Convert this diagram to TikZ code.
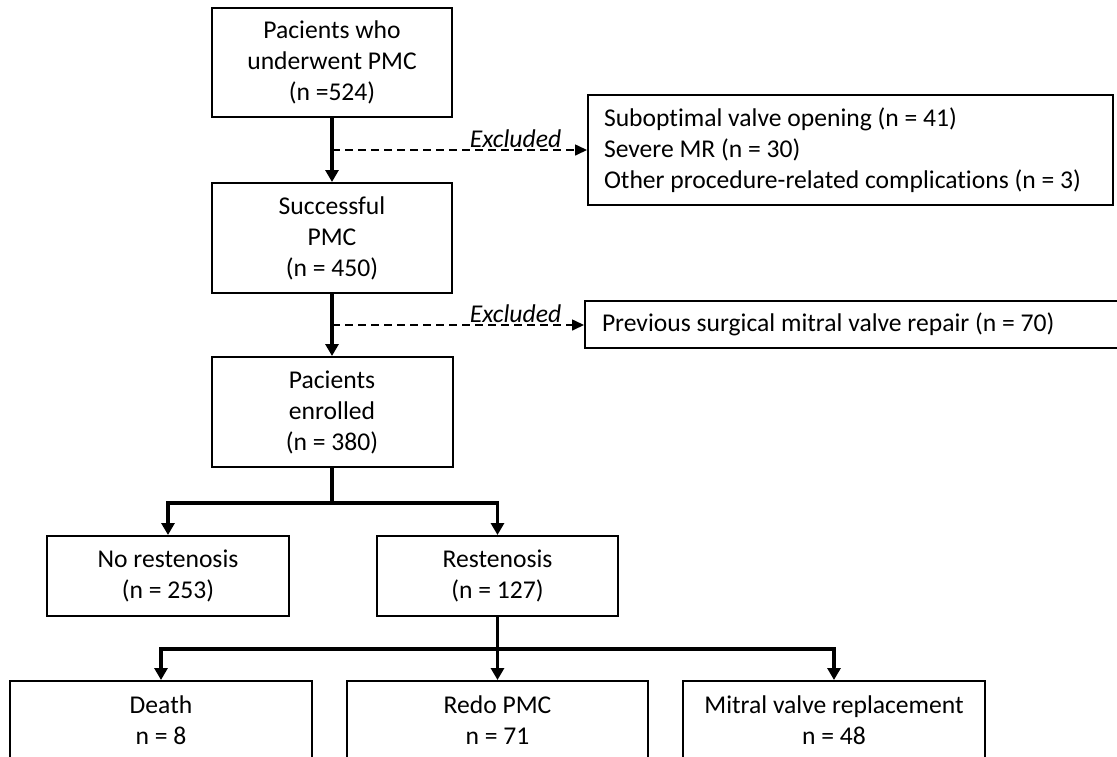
\documentclass[tikz,border=0pt]{standalone}
\usepackage{fontspec}
\setmainfont{Carlito}[Ligatures=NoCommon]
\usetikzlibrary{arrows.meta,calc}
\begin{document}
\begin{tikzpicture}[x=1pt,y=-1pt,
  txt/.style={font=\fontsize{25.6}{31}\selectfont},
  box/.style={draw, line width=2pt, inner sep=0pt, align=center, txt},
  exbox/.style={draw, line width=2pt, inner ysep=0pt, align=flush left, anchor=west, txt},
  solidarr/.style={line width=3.2pt, -{Triangle[width=13pt,length=12pt]}},
  dasharr/.style={line width=1.6pt, dash pattern=on 8pt off 5pt, -{Triangle[width=11pt,length=12pt]}},
  exlabel/.style={font=\fontsize{25.6}{31}\selectfont\itshape, inner sep=0pt, anchor=south east}
]
\useasboundingbox (0,0) rectangle (1117,756);
\clip (0,0) rectangle (1117,756);
\fill[white] (0,0) rectangle (1117,756);

\node[box, minimum width=240pt, minimum height=109pt] (b1) at (332,62.5) {Pacients who\\underwent PMC\\(n =524)};
\node[box, minimum width=240pt, minimum height=110pt] (b2) at (332,238) {Successful\\PMC\\(n = 450)};
\node[box, minimum width=241pt, minimum height=110pt] (b3) at (332,412) {Pacients\\enrolled\\(n = 380)};

\node[exbox, inner xsep=16pt, text width=493pt, minimum height=110pt] (e1) at (587,150) {Suboptimal valve opening (n = 41)\\Severe MR (n = 30)\\Other procedure-related complications (n = 3)};
\node[exbox, inner xsep=17pt, text width=507pt, minimum height=47pt] (e2) at (584,324.5) {Previous surgical mitral valve repair (n = 70)};

\node[box, minimum width=242pt, minimum height=80pt] (nr) at (168,576) {No restenosis\\(n = 253)};
\node[box, minimum width=241pt, minimum height=80pt] (rs) at (497.5,576) {Restenosis\\(n = 127)};

\node[box, minimum width=302pt, minimum height=78pt] (de) at (161,720) {Death\\n = 8};
\node[box, minimum width=301pt, minimum height=78pt] (re) at (497.5,720) {Redo PMC\\n = 71};
\node[box, minimum width=302pt, minimum height=78pt] (mi) at (834,720) {Mitral valve replacement\\n = 48};

\draw[solidarr] (b1) -- (b2);
\draw[solidarr] (b2) -- (b3);
\coordinate (d1) at ($(b1.south)!0.5!(b2.north)$);
\coordinate (d2) at ($(b2.south)!0.5!(b3.north)$);
\draw[dasharr] (d1) -- (d1 -| e1.west) node[exlabel, pos=1, xshift=-25pt, yshift=2pt] {Excluded};
\draw[dasharr] (d2) -- (d2 -| e2.west) node[exlabel, pos=1, xshift=-22pt, yshift=2pt] {Excluded};

\draw[solidarr] (b3.south) -- ++(0,35) -| (nr.north);
\draw[solidarr] (b3.south) -- ++(0,35) -| (rs.north);

\draw[solidarr] (rs.south) -- ++(0,32) -| (de.north);
\draw[solidarr] (rs.south) -- ++(0,32) -| (mi.north);
\draw[solidarr] (rs) -- (re);
\end{tikzpicture}
\end{document}
